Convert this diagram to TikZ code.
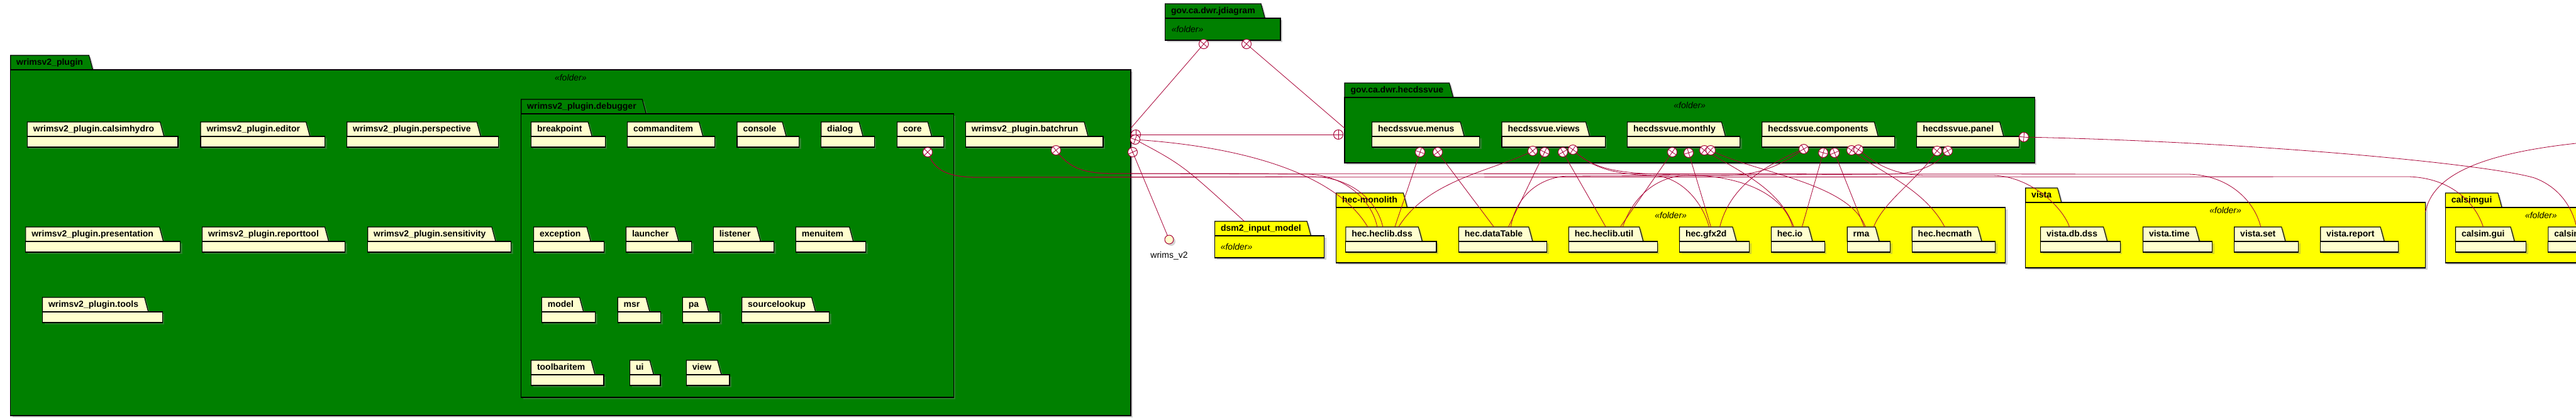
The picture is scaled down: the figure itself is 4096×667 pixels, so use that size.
\documentclass[tikz,border=0pt]{standalone}
\usepackage{fontspec}
\setmainfont{Liberation Sans}
\usetikzlibrary{shapes.geometric,shadows}
\definecolor{pkggreen}{HTML}{008000}
\definecolor{pkgyellow}{HTML}{FFFF00}
\definecolor{pkgcream}{HTML}{FEFECE}
\definecolor{umlred}{HTML}{A80036}
\tikzset{
  pkgshadow/.style={drop shadow={shadow xshift=3pt,shadow yshift=-3pt,opacity=0.35}},
  pkgtab/.style={trapezium,trapezium left angle=90,trapezium right angle=75,draw=black,line width=1.1pt,
    inner xsep=9.5pt,inner ysep=4.75pt,outer sep=0pt,text height=10.5pt,text depth=3pt,
    font=\bfseries\fontsize{14}{16}\selectfont,anchor=bottom left corner,pkgshadow},
  pkgbody/.style={rectangle,draw=black,line width=1.1pt,inner sep=0pt,outer sep=0pt,anchor=north west,pkgshadow},
  stereo/.style={font=\itshape\fontsize{14}{16}\selectfont,inner sep=0pt},
  dep/.style={draw=umlred,line width=0.8pt},
  iface/.style={circle,draw=umlred,line width=1pt,fill=pkgcream,minimum size=14pt,inner sep=0pt,pkgshadow}
}
%% package: name, x, body top, width, height, fill, label
\newcommand\pkg[7]{%
  \node[pkgtab,fill=#6] (#1T) at (#2,#3) {#7};
  \node[pkgbody,fill=#6,minimum width=#4pt,minimum height=#5pt] (#1) at (#1T.bottom left corner) {};}
%% nested mark: coordinate, angle
\newcommand\nestsym[2]{%
  \draw[dep,line width=1pt,fill=white] (#1) circle (7.5);
  \draw[dep] ([shift={(#2:7.5)}]#1) -- ([shift={(#2+180:7.5)}]#1);
  \draw[dep] ([shift={(#2+90:7.5)}]#1) -- ([shift={(#2-90:7.5)}]#1);}
\begin{document}
\begin{tikzpicture}[x=1pt,y=-1pt]
        \useasboundingbox (0,0) rectangle (4096,667);
        \fill[white] (0,0) rectangle (4096,667);
        \clip (0,0) rectangle (4096,667);
        %% outer packages
        \pkg{wrim}{16.7}{111}{1781.3}{550}{pkggreen}{wrimsv2\_plugin}
        \pkg{jd}{1852.6}{29}{183.4}{35}{pkggreen}{gov.ca.dwr.jdiagram}
        \pkg{hv}{2138}{155}{1097.4}{104}{pkggreen}{gov.ca.dwr.hecdssvue}
        \pkg{dsm}{1931.6}{375}{174}{35}{pkgyellow}{dsm2\_input\_model}
        \pkg{hm}{2124.5}{330}{1064.3}{88}{pkgyellow}{hec-monolith}
        \pkg{vista}{3220.7}{322}{635.8}{104}{pkgyellow}{vista}
        \pkg{csg}{3888.3}{330}{320}{88}{pkgyellow}{calsimgui}
        \node[stereo] (wrimF) at ([yshift=-12pt]wrim.north) {«folder»};
        \node[stereo,anchor=west] (jdF) at ([xshift=10pt,yshift=-17pt]jd.north west) {«folder»};
        \node[stereo] (hvF) at ([yshift=-12pt]hv.north) {«folder»};
        \node[stereo,anchor=west] (dsmF) at ([xshift=9pt,yshift=-17pt]dsm.north west) {«folder»};
        \node[stereo] (hmF) at ([yshift=-12pt]hm.north) {«folder»};
        \node[stereo] (vistaF) at ([yshift=-12pt]vista.north) {«folder»};
        \node[stereo] (csgF) at ([xshift=152pt,yshift=-12pt]csg.north west) {«folder»};
        %% wrimsv2_plugin
        \pkg{hydro}{43.4}{217}{239.6}{17}{pkgcream}{wrimsv2\_plugin.calsimhydro}
        \pkg{editor}{319}{217}{197.7}{17}{pkgcream}{wrimsv2\_plugin.editor}
        \pkg{persp}{551.7}{217}{240.6}{17}{pkgcream}{wrimsv2\_plugin.perspective}
        \pkg{batch}{1535.3}{217}{218.7}{17}{pkgcream}{wrimsv2\_plugin.batchrun}
        \pkg{pres}{40.8}{384}{245.8}{17}{pkgcream}{wrimsv2\_plugin.presentation}
        \pkg{report}{321.6}{384}{227}{17}{pkgcream}{wrimsv2\_plugin.reporttool}
        \pkg{sens}{584.7}{384}{228}{17}{pkgcream}{wrimsv2\_plugin.sensitivity}
        \pkg{tools}{67.5}{496}{190.8}{17}{pkgcream}{wrimsv2\_plugin.tools}
        \pkg{dbg}{828.7}{181}{687.7}{451}{pkggreen}{wrimsv2\_plugin.debugger}
        %% debugger
        \pkg{brk}{844.5}{217}{117.8}{17}{pkgcream}{breakpoint}
        \pkg{cmd}{997.6}{217}{138.7}{17}{pkgcream}{commanditem}
        \pkg{console}{1172}{217}{98.5}{17}{pkgcream}{console}
        \pkg{dialog}{1305.7}{217}{84.7}{17}{pkgcream}{dialog}
        \pkg{core}{1426.6}{217}{74}{17}{pkgcream}{core}
        \pkg{exc}{848.6}{384}{111.7}{17}{pkgcream}{exception}
        \pkg{launch}{995.5}{384}{104.1}{17}{pkgcream}{launcher}
        \pkg{listen}{1134.3}{384}{96.4}{17}{pkgcream}{listener}
        \pkg{menu}{1265.4}{384}{111.2}{17}{pkgcream}{menuitem}
        \pkg{model}{861.3}{496}{85.2}{17}{pkgcream}{model}
        \pkg{msr}{982.2}{496}{68.4}{17}{pkgcream}{msr}
        \pkg{pa}{1085.3}{496}{59.2}{17}{pkgcream}{pa}
        \pkg{srcl}{1179.7}{496}{138.8}{17}{pkgcream}{sourcelookup}
        \pkg{tbar}{844.5}{596}{115.5}{17}{pkgcream}{toolbaritem}
        \pkg{ui}{1001.6}{596}{48.4}{17}{pkgcream}{ui}
        \pkg{view}{1091.4}{596}{68.6}{17}{pkgcream}{view}
        %% hecdssvue
        \pkg{menus}{2181.6}{217}{171}{17}{pkgcream}{hecdssvue.menus}
        \pkg{views}{2388}{217}{164.3}{17}{pkgcream}{hecdssvue.views}
        \pkg{monthly}{2587.6}{217}{178.9}{17}{pkgcream}{hecdssvue.monthly}
        \pkg{comps}{2801.7}{217}{210.9}{17}{pkgcream}{hecdssvue.components}
        \pkg{panel}{3047.8}{217}{162.6}{17}{pkgcream}{hecdssvue.panel}
        %% hec-monolith
        \pkg{dss}{2139.8}{384}{144.2}{17}{pkgcream}{hec.heclib.dss}
        \pkg{dtab}{2319.4}{384}{140.2}{17}{pkgcream}{hec.dataTable}
        \pkg{util}{2494.3}{384}{141}{17}{pkgcream}{hec.heclib.util}
        \pkg{gfx}{2670.5}{384}{111.1}{17}{pkgcream}{hec.gfx2d}
        \pkg{io}{2816.3}{384}{85.1}{17}{pkgcream}{hec.io}
        \pkg{rma}{2937.2}{384}{68.3}{17}{pkgcream}{rma}
        \pkg{hmath}{3040.2}{384}{132.3}{17}{pkgcream}{hec.hecmath}
        %% vista
        \pkg{vdss}{3244.6}{384}{126.8}{17}{pkgcream}{vista.db.dss}
        \pkg{vtime}{3407.5}{384}{110.1}{17}{pkgcream}{vista.time}
        \pkg{vset}{3552.7}{384}{102}{17}{pkgcream}{vista.set}
        \pkg{vrep}{3689.7}{384}{123.6}{17}{pkgcream}{vista.report}
        %% calsimgui
        \pkg{cgui}{3904.5}{384}{112.2}{17}{pkgcream}{calsim.gui}
        \pkg{cnext}{4051.8}{384}{120}{17}{pkgcream}{calsim}
        %% interface
        \node[iface] (wv2) at (1859,381) {};
        \node[font=\fontsize{14}{16}\selectfont,anchor=north,inner sep=0pt] (wv2L) at ([yshift=-12pt]wv2.south) {wrims\_v2};
        %% nest points
        \coordinate (jd1) at ([xshift=61.4pt,yshift=-6pt]jd.south west);
        \coordinate (jd2) at ([xshift=129.4pt,yshift=-6pt]jd.south west);
        \coordinate (w1) at ([xshift=8pt,yshift=-103pt]wrim.north east);
        \coordinate (w2) at ([xshift=7pt,yshift=-111pt]wrim.north east);
        \coordinate (w3) at ([xshift=3pt,yshift=-131pt]wrim.north east);
        \coordinate (hv1) at ([xshift=-10pt,yshift=-59pt]hv.north west);
        \coordinate (bc) at ([xshift=143.7pt,yshift=-5pt]batch.south west);
        \coordinate (cc) at ([xshift=48.4pt,yshift=-8pt]core.south west);
        \coordinate (m1) at ([xshift=76.4pt,yshift=-8pt]menus.south west);
        \coordinate (m2) at ([xshift=104.4pt,yshift=-8pt]menus.south west);
        \coordinate (v1) at ([xshift=49pt,yshift=-6pt]views.south west);
        \coordinate (v2) at ([xshift=68pt,yshift=-8pt]views.south west);
        \coordinate (v3) at ([xshift=97pt,yshift=-8pt]views.south west);
        \coordinate (v4) at ([xshift=113pt,yshift=-4pt]views.south west);
        \coordinate (mo1) at ([xshift=71.4pt,yshift=-8pt]monthly.south west);
        \coordinate (mo2) at ([xshift=97.4pt,yshift=-9pt]monthly.south west);
        \coordinate (mo3) at ([xshift=122.4pt,yshift=-5pt]monthly.south west);
        \coordinate (mo4) at ([xshift=132.4pt,yshift=-5pt]monthly.south west);
        \coordinate (c1) at ([xshift=66.3pt,yshift=-3pt]comps.south west);
        \coordinate (c2) at ([xshift=97.3pt,yshift=-9pt]comps.south west);
        \coordinate (c3) at ([xshift=115.3pt,yshift=-9pt]comps.south west);
        \coordinate (c4) at ([xshift=142.3pt,yshift=-5pt]comps.south west);
        \coordinate (c5) at ([xshift=153.3pt,yshift=-4pt]comps.south west);
        \coordinate (p1) at ([xshift=32.2pt,yshift=-6pt]panel.south west);
        \coordinate (p2) at ([xshift=49.2pt,yshift=-6pt]panel.south west);
        \coordinate (p3) at ([xshift=7.6pt,yshift=-1pt]panel.north east);
        \coordinate (offR) at (4096,228);
        %% connectors
        \draw[dep] (jd1) -- ([yshift=-93pt]wrim.north east);
        \draw[dep] (jd2) -- ([yshift=-49pt]hv.north west);
        \draw[dep] (w1) -- (hv1);
        \draw[dep] (w2) .. controls (2000,235) and (2130,285) .. ([xshift=35pt]dssT.top left corner);
        \draw[dep] (w2) .. controls (1880,262) .. ([xshift=47pt]dsmT.top left corner);
        \draw[dep] (w3) -- (wv2);
        \draw[dep] (bc) .. controls (1700,268) and (1725,276) .. (1770,276) -- (2080,277) .. controls (2140,279) and (2182,320) .. ([xshift=50pt]dssT.top left corner);
        \draw[dep] (bc) .. controls (1700,268) and (1725,276) .. (1770,276) -- (3480,277) .. controls (3545,279) and (3585,320) .. ([xshift=42pt]vsetT.top left corner);
        \draw[dep] (cc) .. controls (1485,270) and (1505,281) .. (1550,282) -- (2090,281) .. controls (2150,283) and (2190,320) .. ([xshift=59pt]dssT.top left corner);
        \draw[dep] (cc) .. controls (1485,270) and (1505,281) .. (1550,282) -- (3830,281) .. controls (3895,283) and (3935,320) .. ([xshift=44pt]cguiT.top left corner);
        \draw[dep] (m1) -- ([xshift=78pt]dssT.top left corner);
        \draw[dep] (m2) -- ([xshift=56pt]dtabT.top left corner);
        \draw[dep] (v1) .. controls (2380,270) and (2270,285) .. ([xshift=84pt]dssT.top left corner);
        \draw[dep] (v2) -- ([xshift=79pt]dtabT.top left corner);
        \draw[dep] (v3) -- ([xshift=59pt]utilT.top left corner);
        \draw[dep] (v4) .. controls (2535,272) and (2580,278) .. (2630,279) .. controls (2680,283) and (2710,330) .. ([xshift=47pt]gfxT.top left corner);
        \draw[dep] (v4) .. controls (2535,272) and (2580,277) .. (2680,278) .. controls (2790,280) and (2840,320) .. ([xshift=34pt]ioT.top left corner);
        \draw[dep] (mo1) -- ([xshift=82pt]utilT.top left corner);
        \draw[dep] (mo2) -- ([xshift=50pt]gfxT.top left corner);
        \draw[dep] (mo3) .. controls (2765,272) and (2830,300) .. ([xshift=36pt]ioT.top left corner);
        \draw[dep] (mo4) .. controls (2790,275) and (2940,290) .. ([xshift=29pt]rmaT.top left corner);
        \draw[dep] (c1) .. controls (2800,265) and (2750,300) .. ([xshift=64pt]gfxT.top left corner);
        \draw[dep] (c1) .. controls (2825,268) and (2790,279) .. (2740,279) -- (2490,280) .. controls (2440,284) and (2408,320) .. ([xshift=83pt]dtabT.top left corner);
        \draw[dep] (c2) -- ([xshift=49pt]ioT.top left corner);
        \draw[dep] (c3) -- ([xshift=27pt]rmaT.top left corner);
        \draw[dep] (c4) .. controls (2990,275) and (3060,300) .. ([xshift=52pt]hmathT.top left corner);
        \draw[dep] (c5) .. controls (2990,268) and (3020,278) .. (3060,279) -- (3170,279) .. controls (3230,281) and (3280,330) .. ([xshift=46pt]vdssT.top left corner);
        \draw[dep] (p1) .. controls (3050,285) and (2995,320) .. ([xshift=42pt]rmaT.top left corner);
        \draw[dep] (p2) .. controls (3075,268) and (3040,277) .. (3000,277) -- (2680,279) .. controls (2620,282) and (2590,330) .. ([xshift=86pt]utilT.top left corner);
        \draw[dep] (p3) .. controls (3600,226) and (3960,262) .. (4030,283) .. controls (4070,298) and (4090,330) .. ([xshift=45pt]cnextT.top left corner);
        \draw[dep] ([yshift=-15pt]vista.north east) .. controls (3868,280) and (3940,245) .. (offR);
        %% nest marks
        \nestsym{jd1}{131} \nestsym{jd2}{41}
        \nestsym{w1}{0} \nestsym{w2}{20} \nestsym{w3}{66} \nestsym{hv1}{0}
        \nestsym{bc}{50} \nestsym{cc}{45}
        \nestsym{m1}{109} \nestsym{m2}{53}
        \nestsym{v1}{140} \nestsym{v2}{116} \nestsym{v3}{60} \nestsym{v4}{35}
        \nestsym{mo1}{125} \nestsym{mo2}{73} \nestsym{mo3}{40} \nestsym{mo4}{40}
        \nestsym{c1}{150} \nestsym{c2}{106} \nestsym{c3}{68} \nestsym{c4}{35} \nestsym{c5}{35}
        \nestsym{p1}{130} \nestsym{p2}{150} \nestsym{p3}{5}
    \end{tikzpicture}
\end{document}
